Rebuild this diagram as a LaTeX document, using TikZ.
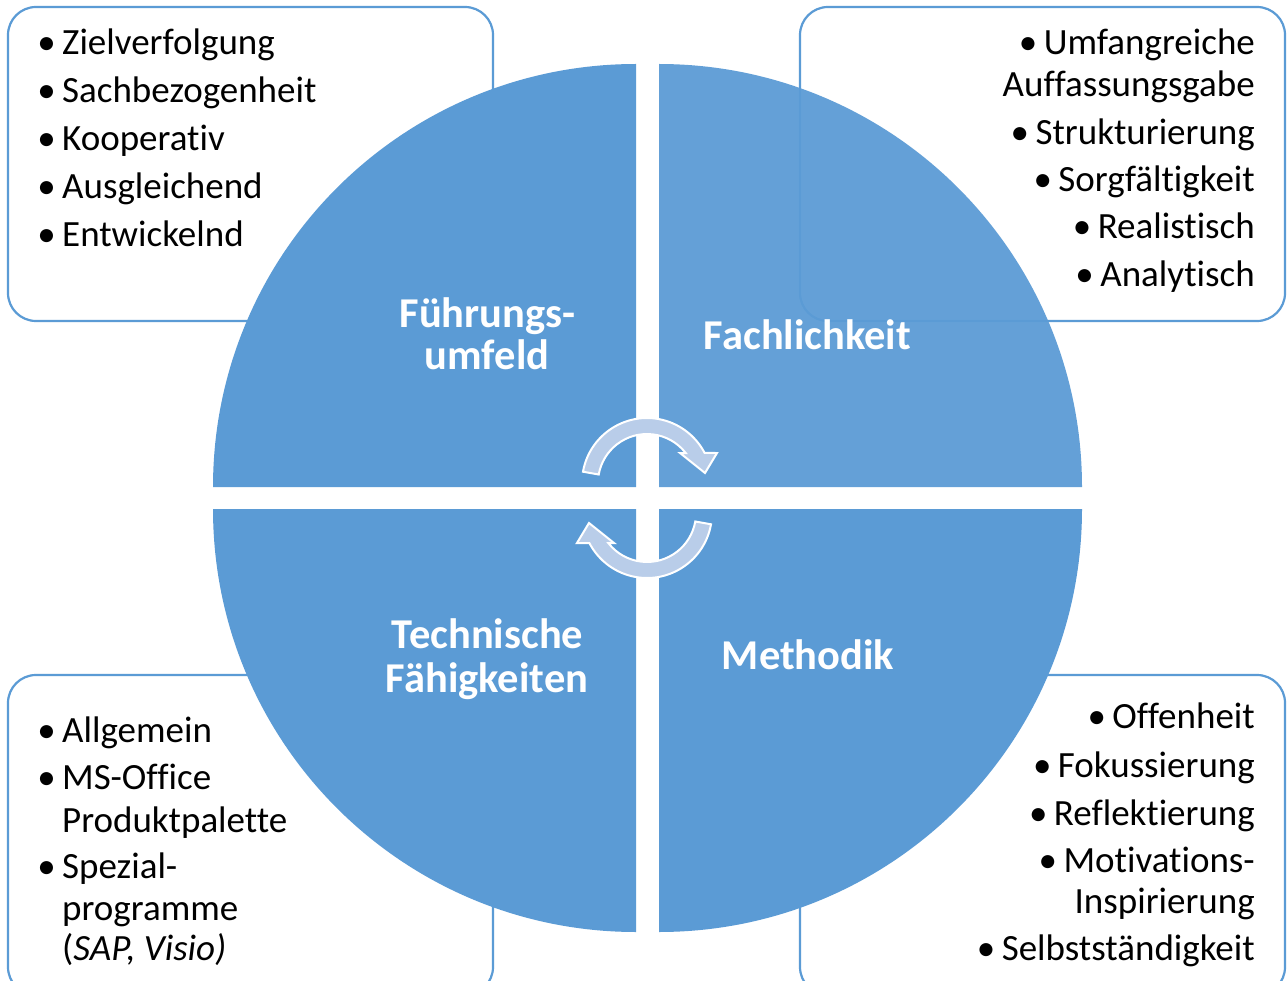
\documentclass[tikz,border=0pt]{standalone}
\usepackage{fontspec}
\setmainfont{Carlito}[Ligatures={NoCommon,NoRare,NoContextual}]
\definecolor{qblue}{HTML}{5B9BD5}
\definecolor{arrowfill}{HTML}{B9CDE9}
\begin{document}
\begin{tikzpicture}[x=1pt,y=1pt,
  quad/.style={fill=qblue,draw=none},
  infobox/.style={draw=qblue,line width=2.2pt,rounded corners=28pt,fill=white},
  item/.style={font=\fontsize{37}{42}\selectfont,inner sep=0pt,text=black},
  bul/.style={font=\fontsize{37}{42}\selectfont,inner sep=0pt,anchor=base,text=black},
  title/.style={font=\fontsize{42.5}{44}\selectfont\bfseries,text=white,inner sep=0pt,anchor=base},
  carrow/.style={fill=arrowfill,draw=white,line width=2pt,line join=miter}]
\useasboundingbox (0,0) rectangle (1287,-981);
\clip (0,0) rectangle (1287,-981);
\fill[white] (0,0) rectangle (1287,-981);
% boxes
\draw[infobox] (8,-7) rectangle (493,-321);
\draw[infobox] (800,-7) rectangle (1285,-321);
\draw[infobox] (8,-675) rectangle (493,-995);
\draw[infobox] (800,-675) rectangle (1285,-995);
% quadrants
\fill[quad] (636,-487) -- (213,-487) arc[start angle=180,end angle=90,radius=423] -- cycle;
\fill[quad,fill opacity=0.94] (659,-487) -- (659,-64) arc[start angle=90,end angle=0,radius=423] -- cycle;
\fill[quad] (636,-509) -- (213,-509) arc[start angle=180,end angle=270,radius=423] -- cycle;
\fill[quad] (659,-509) -- (659,-932) arc[start angle=270,end angle=360,radius=423] -- cycle;
% circular arrows
\path[carrow] (647,-483) ++(170:65) arc[start angle=170,end angle=27.5,radius=65]
  -- (717,-453) -- (705,-473) -- (680,-453) -- (685.7,-453)
  arc[start angle=37.8,end angle=170,radius=49] -- cycle;
\begin{scope}[rotate around={180:(647,-498)}]
\path[carrow] (647,-483) ++(170:65) arc[start angle=170,end angle=27.5,radius=65]
  -- (717,-453) -- (705,-473) -- (680,-453) -- (685.7,-453)
  arc[start angle=37.8,end angle=170,radius=49] -- cycle;
\end{scope}
% titles
\node[title] (t1a) at (487.5,-327) {Führungs-};
\node[title] (t1b) at (487,-370) {umfeld};
\node[title] (t2) at (807.5,-349) {Fachlichkeit};
\node[title] (t3a) at (487.5,-648) {Technische};
\node[title] (t3b) at (487,-692) {Fähigkeiten};
\node[title] (t4) at (808,-669) {Methodik};
% top-left items
\node[item,anchor=base west] (tl1) at (62,-55) {Zielverfolgung};
\node[item,anchor=base west] (tl2) at (62,-103) {Sachbezogenheit};
\node[item,anchor=base west] (tl3) at (62,-151) {Kooperativ};
\node[item,anchor=base west] (tl4) at (62,-199) {Ausgleichend};
\node[item,anchor=base west] (tl5) at (62,-247) {Entwickelnd};
\foreach \n in {tl1,tl2,tl3,tl4,tl5}
  \node[bul] (\n b) at ([xshift=-15.5pt]\n.base west) {•};
% top-right items
\node[item,anchor=base east] (tr1) at (1255,-55) {Umfangreiche};
\node[item,anchor=base east] (tr1c) at (1255,-97) {Auffassungsgabe};
\node[item,anchor=base east] (tr2) at (1255,-145) {Strukturierung};
\node[item,anchor=base east] (tr3) at (1255,-192) {Sorgfältigkeit};
\node[item,anchor=base east] (tr4) at (1255,-239) {Realistisch};
\node[item,anchor=base east] (tr5) at (1255,-287) {Analytisch};
\foreach \n in {tr1,tr2,tr3,tr4,tr5}
  \node[bul] (\n b) at ([xshift=-15.5pt]\n.base west) {•};
% bottom-left items
\node[item,anchor=base west] (bl1) at (62,-742) {Allgemein};
\node[item,anchor=base west] (bl2) at (62,-789) {MS-Office};
\node[item,anchor=base west] (bl2c) at (62,-832) {Produktpalette};
\node[item,anchor=base west] (bl3) at (62,-878) {Spezial-};
\node[item,anchor=base west] (bl3c) at (62,-920) {programme};
\node[item,anchor=base west] (bl3d) at (62,-960) {(\textit{SAP, Visio)}};
\foreach \n in {bl1,bl2,bl3}
  \node[bul] (\n b) at ([xshift=-15.5pt]\n.base west) {•};
% bottom-right items
\node[item,anchor=base east] (br1) at (1255,-728) {Offenheit};
\node[item,anchor=base east] (br2) at (1255,-777) {Fokussierung};
\node[item,anchor=base east] (br3) at (1255,-825) {Reflektierung};
\node[item,anchor=base east] (br4) at (1255,-872) {Motivations-};
\node[item,anchor=base east] (br4c) at (1255,-913) {Inspirierung};
\node[item,anchor=base east] (br5) at (1255,-960) {Selbstständigkeit};
\foreach \n in {br1,br2,br3,br4,br5}
  \node[bul] (\n b) at ([xshift=-15.5pt]\n.base west) {•};
\end{tikzpicture}
\end{document}
